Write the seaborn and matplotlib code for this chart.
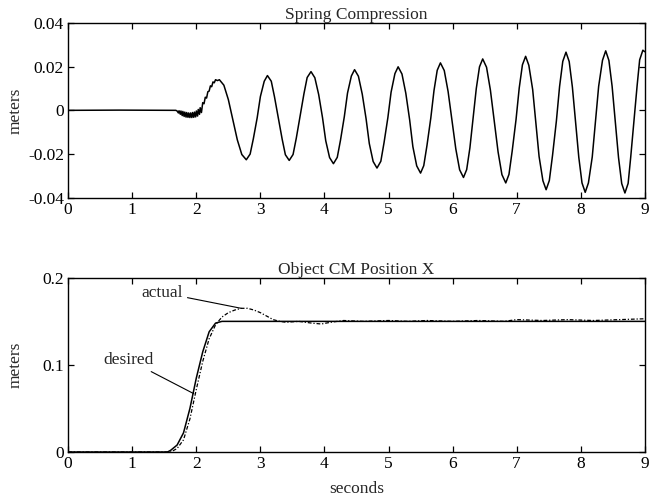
import matplotlib

matplotlib.use("Agg")
import matplotlib.pyplot as plt
import pandas as pd
import seaborn as sns

# --- Spring compression (top panel) ---
spring_t = [
    0.00, 0.80, 1.68,
    # chatter around the small dip
    1.70, 1.72, 1.73, 1.75, 1.76, 1.78, 1.79, 1.81, 1.82, 1.84, 1.85, 1.87,
    1.88, 1.90, 1.91, 1.93, 1.94, 1.96, 1.97, 1.99, 2.00, 2.02, 2.03, 2.05,
    2.06, 2.08, 2.10, 2.12, 2.14, 2.16, 2.18, 2.20, 2.22, 2.24, 2.26, 2.28,
    2.30, 2.33, 2.36,
    # growing oscillation
    2.43, 2.50, 2.57, 2.64, 2.71, 2.78,
    2.84, 2.89, 2.95, 3.00, 3.06, 3.11,
    3.17, 3.22, 3.28, 3.34, 3.39, 3.45,
    3.51, 3.56, 3.62, 3.68, 3.73, 3.79,
    3.85, 3.91, 3.97, 4.02, 4.08, 4.14,
    4.20, 4.25, 4.31, 4.36, 4.42, 4.47,
    4.53, 4.59, 4.65, 4.70, 4.76, 4.82,
    4.88, 4.93, 4.99, 5.04, 5.10, 5.15,
    5.21, 5.27, 5.33, 5.38, 5.44, 5.50,
    5.55, 5.60, 5.66, 5.71, 5.76, 5.81,
    5.87, 5.93, 5.99, 6.05, 6.11, 6.17,
    6.22, 6.27, 6.32, 6.37, 6.42, 6.47,
    6.53, 6.59, 6.65, 6.71, 6.77, 6.83,
    6.88, 6.93, 6.99, 7.04, 7.09, 7.14,
    7.19, 7.25, 7.30, 7.35, 7.41, 7.46,
    7.51, 7.56, 7.62, 7.67, 7.72, 7.77,
    7.82, 7.87, 7.92, 7.97, 8.02, 8.07,
    8.12, 8.18, 8.23, 8.28, 8.34, 8.39,
    8.44, 8.49, 8.54, 8.59, 8.64, 8.69,
    8.74, 8.78, 8.83, 8.88, 8.92, 8.97,
    9.00,
]
spring_x = [
    0.0000, 0.0001, 0.0000,
    -0.0003, -0.0012, -0.0002, -0.0018, -0.0003, -0.0024, -0.0005, -0.0028,
    -0.0008, -0.0031, -0.0010, -0.0032, -0.0012, -0.0033, -0.0012, -0.0033,
    -0.0010, -0.0032, -0.0008, -0.0030, -0.0003, -0.0026, 0.0004, -0.0018,
    0.0012, -0.0010, 0.0035, 0.0030, 0.0060, 0.0056, 0.0085, 0.0088, 0.0112,
    0.0108, 0.0130, 0.0126, 0.0140, 0.0136, 0.0140,
    0.0115, 0.0049, -0.0043, -0.0135, -0.0202, -0.0226,
    -0.0200, -0.0130, -0.0034, 0.0063, 0.0133, 0.0159,
    0.0133, 0.0062, -0.0035, -0.0132, -0.0203, -0.0229,
    -0.0202, -0.0128, -0.0026, 0.0076, 0.0150, 0.0177,
    0.0149, 0.0072, -0.0034, -0.0139, -0.0216, -0.0244,
    -0.0215, -0.0137, -0.0029, 0.0079, 0.0157, 0.0186,
    0.0156, 0.0074, -0.0039, -0.0152, -0.0234, -0.0264,
    -0.0233, -0.0148, -0.0033, 0.0083, 0.0168, 0.0199,
    0.0166, 0.0078, -0.0044, -0.0166, -0.0254, -0.0287,
    -0.0253, -0.0161, -0.0035, 0.0091, 0.0183, 0.0217,
    0.0182, 0.0086, -0.0045, -0.0176, -0.0272, -0.0307,
    -0.0271, -0.0172, -0.0036, 0.0100, 0.0199, 0.0235,
    0.0197, 0.0093, -0.0049, -0.0190, -0.0294, -0.0332,
    -0.0293, -0.0187, -0.0043, 0.0102, 0.0208, 0.0247,
    0.0206, 0.0095, -0.0058, -0.0211, -0.0322, -0.0363,
    -0.0321, -0.0206, -0.0049, 0.0109, 0.0224, 0.0266,
    0.0223, 0.0106, -0.0055, -0.0215, -0.0332, -0.0375,
    -0.0332, -0.0213, -0.0052, 0.0110, 0.0229, 0.0272,
    0.0228, 0.0110, -0.0053, -0.0216, -0.0335, -0.0378,
    -0.0334, -0.0215, -0.0052, 0.0112, 0.0231, 0.0275,
    0.0268,
]

# --- Object CM position X (bottom panel) ---
desired_t = [0.00, 1.55, 1.60, 1.70, 1.80, 1.90, 2.00, 2.10, 2.20, 2.30, 2.40, 9.00]
desired_x = [0.000, 0.000, 0.002, 0.008, 0.022, 0.050, 0.085, 0.115, 0.138, 0.148, 0.150, 0.150]

actual_t = [
    0.00, 1.60, 1.70, 1.80, 1.90, 2.00, 2.10, 2.20, 2.30, 2.40, 2.50, 2.60,
    2.70, 2.80, 2.90, 3.00, 3.10, 3.20, 3.30, 3.40, 3.60, 3.80, 3.95, 4.10,
    4.30, 4.60, 5.00, 5.30, 5.60, 6.00, 6.40, 6.80, 7.00, 7.40, 7.80, 8.20,
    8.60, 9.00,
]
actual_x = [
    0.000, 0.000, 0.004, 0.014, 0.038, 0.072, 0.104, 0.130, 0.146, 0.155, 0.160, 0.163,
    0.165, 0.165, 0.163, 0.160, 0.156, 0.152, 0.150, 0.149, 0.150, 0.148, 0.147, 0.149,
    0.151, 0.150, 0.151, 0.150, 0.151, 0.150, 0.151, 0.150, 0.152, 0.151, 0.152, 0.151,
    0.152, 0.153,
]

x_ticks = [0, 1, 2, 3, 4, 5, 6, 7, 8, 9]
top_yticks = [-0.04, -0.02, 0, 0.02, 0.04]
top_ylabels = ["-0.04", "-0.02", "0", "0.02", "0.04"]
bot_yticks = [0, 0.1, 0.2]
bot_ylabels = ["0", "0.1", "0.2"]

FS = 12.5

sns.set_theme(style="ticks")
plt.rcParams["font.family"] = ["Liberation Serif", "DejaVu Serif"]
plt.rcParams.update({
    "xtick.direction": "in",
    "ytick.direction": "in",
    "xtick.top": True,
    "ytick.right": True,
    "xtick.major.size": 4,
    "ytick.major.size": 4,
    "xtick.major.pad": 3,
    "ytick.major.pad": 3,
    "axes.linewidth": 1.0,
    "axes.edgecolor": "black",
})

fig = plt.figure(figsize=(6.62, 4.97), dpi=100)
ax1 = fig.add_axes([0.103, 0.602, 0.871, 0.352])
ax2 = fig.add_axes([0.103, 0.0905, 0.871, 0.3505])

spring_df = pd.DataFrame({"t": spring_t, "x": spring_x})
sns.lineplot(data=spring_df, x="t", y="x", ax=ax1, color="black",
             linewidth=1.1, estimator=None, sort=False)

desired_df = pd.DataFrame({"t": desired_t, "x": desired_x})
actual_df = pd.DataFrame({"t": actual_t, "x": actual_x})
sns.lineplot(data=desired_df, x="t", y="x", ax=ax2, color="black",
             linewidth=1.1, estimator=None, sort=False)
sns.lineplot(data=actual_df, x="t", y="x", ax=ax2, color="black",
             linewidth=0.9, linestyle=(0, (3, 1.5, 1, 1.5)),
             estimator=None, sort=False)

for ax in (ax1, ax2):
    ax.set_xlim(0, 9)
    ax.set_xticks(x_ticks)
    ax.set_xticklabels([str(v) for v in x_ticks])
    ax.tick_params(labelsize=FS, colors="black", width=0.9)
    ax.set_ylabel("meters", fontsize=FS)
    ax.yaxis.set_label_coords(-0.078, 0.5)
    ax.set_xlabel("")

ax1.set_ylim(-0.04, 0.04)
ax1.set_yticks(top_yticks)
ax1.set_yticklabels(top_ylabels)
ax1.set_title("Spring Compression", fontsize=FS, pad=1)

ax2.set_ylim(0, 0.2)
ax2.set_yticks(bot_yticks)
ax2.set_yticklabels(bot_ylabels)
ax2.set_title("Object CM Position X", fontsize=FS, pad=1)
ax2.set_xlabel("seconds", fontsize=FS)
ax2.xaxis.set_label_coords(0.5, -0.165)

# leader-line labels
ax2.annotate("actual", xy=(2.70, 0.165), xytext=(1.79, 0.183),
             ha="right", va="center", fontsize=FS,
             arrowprops=dict(arrowstyle="-", color="black", lw=0.8,
                             shrinkA=1, shrinkB=0))
ax2.annotate("desired", xy=(1.96, 0.067), xytext=(1.33, 0.106),
             ha="right", va="center", fontsize=FS,
             arrowprops=dict(arrowstyle="-", color="black", lw=0.8,
                             shrinkA=1, shrinkB=0))

fig.savefig("out.png", dpi=100)
plt.close(fig)
